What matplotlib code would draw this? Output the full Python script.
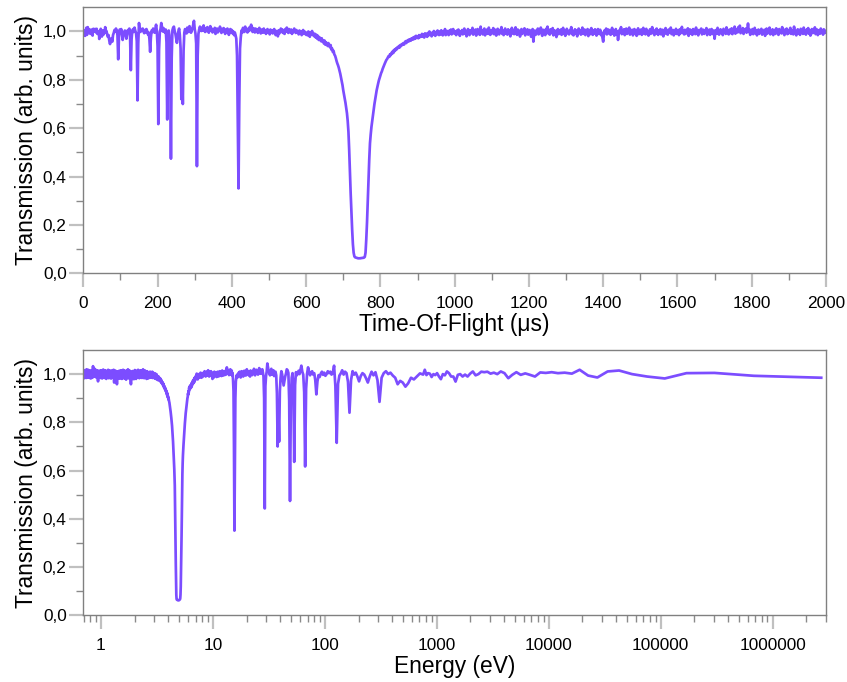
import numpy as np
import matplotlib
matplotlib.use("Agg")
import matplotlib.pyplot as plt
from matplotlib.ticker import MultipleLocator, FuncFormatter, NullFormatter, FixedLocator

# ---------------- data ----------------
# time-of-flight sampling (µs)
tof_fine_us = np.arange(1, 61, 1)          # 1..60 µs
tof_coarse_us = np.arange(62, 2001, 2)     # 62..2000 µs

# transmission in thousandths
trans_1_60 = [
    985, 993, 1005, 1004, 982, 990, 1000, 1015, 1011, 986,
    994, 1018, 1002, 1006, 1004, 1008, 1005, 1007, 990, 997,
    1003, 997, 1008, 997, 983, 1004, 1011, 1000, 1006, 1002,
    1010, 1008, 1010, 1000, 995, 1011, 1002, 990, 998, 990,
    1000, 997, 969, 990, 990, 1004, 1011, 995, 1000, 979,
    990, 1004, 996, 1000, 988, 1002, 1004, 996, 1018, 998,
]
trans_62_600 = [
    1003, 990, 978, 985, 962, 948, 965, 972, 958, 985,
    994, 1006, 1000, 1012, 1004, 985, 885, 975, 1008, 995,
    1010, 990, 965, 983, 998, 1004, 992, 970, 990, 1006,
    998, 1012, 975, 840, 968, 1004, 1010, 998, 1016, 1003,
    994, 960, 715, 950, 1035, 1005, 998, 1010, 1004, 1012,
    1000, 993, 1006, 997, 1010, 1002, 988, 996, 970, 916,
    975, 1004, 998, 1012, 1004, 995, 1010, 1028, 1002, 940,
    617, 925, 998, 1010, 1035, 1018, 1000, 1014, 1005, 995,
    1008, 955, 636, 940, 1004, 985, 880, 474, 890, 1005,
    1016, 1020, 1002, 990, 970, 953, 975, 1000, 1012, 985,
    930, 720, 850, 700, 920, 995, 1010, 1004, 992, 1016,
    1008, 998, 1022, 1010, 995, 1004, 1012, 1028, 1044, 1010,
    992, 950, 443, 900, 990, 1008, 1020, 1012, 1002, 1016,
    1004, 1025, 1010, 998, 1012, 1002, 1018, 1006, 995, 1010,
    1022, 1004, 1012, 996, 1008, 1002, 1015, 990, 1005, 1012,
    996, 1008, 1002, 1020, 1006, 994, 1010, 1000, 1014, 1004,
    990, 1008, 998, 1012, 1004, 986, 1002, 1010, 995, 1006,
    992, 1000, 985, 996, 985, 970, 900, 620, 351, 700,
    930, 975, 1004, 995, 1015, 1003, 998, 1020, 1006, 1012,
    996, 1010, 1002, 1018, 1006, 1028, 1010, 998, 1014, 1004,
    996, 1012, 1000, 1008, 994, 1006, 1015, 1000, 992, 1008,
    1002, 995, 1012, 998, 1005, 990, 1004, 1010, 996, 1002,
    988, 1008, 996, 1004, 992, 1000, 1010, 994, 985, 1002,
    996, 980, 1005, 992, 1000, 1012, 998, 1008, 994, 1005,
    990, 1010, 1000, 1016, 1004, 994, 1010, 1000, 996, 1008,
    990, 1004, 998, 1012, 1002, 994, 1006, 996, 1000, 988,
    1004, 992, 1000, 985, 998, 1006, 990, 1000, 994, 986,
]
trans_602_1000 = [
    995, 984, 1000, 990, 978, 996, 988, 1002, 985, 992,
    980, 990, 975, 986, 970, 982, 965, 976, 968, 960,
    972, 958, 964, 950, 962, 945, 955, 948, 940, 952,
    942, 935, 944, 925, 930, 915, 920, 905, 900, 890,
    878, 868, 860, 850, 838, 825, 810, 795, 778, 757,
    740, 722, 705, 685, 662, 630, 585, 510, 414, 330,
    255, 180, 120, 85, 70, 66, 65, 64, 63, 62,
    62, 62, 62, 63, 63, 64, 64, 65, 68, 85,
    140, 210, 300, 380, 470, 538, 575, 606, 630, 655,
    680, 700, 720, 738, 757, 772, 785, 798, 808, 818,
    828, 835, 845, 853, 860, 868, 875, 882, 886, 892,
    898, 895, 906, 902, 912, 908, 920, 913, 925, 921,
    930, 926, 935, 932, 940, 934, 944, 940, 948, 945,
    952, 946, 955, 960, 952, 962, 958, 966, 960, 968,
    962, 972, 966, 975, 968, 978, 970, 982, 974, 980,
    972, 985, 976, 984, 978, 990, 980, 986, 975, 992,
    982, 990, 978, 994, 984, 1000, 986, 992, 980, 996,
    986, 1002, 990, 982, 998, 988, 1004, 990, 985, 1000,
    988, 1005, 992, 984, 1000, 990, 1010, 985, 996, 1002,
    990, 985, 1004, 994, 1008, 988, 998, 1010, 992, 1000,
]
trans_1002_2000 = [
    998, 985, 1004, 990, 1008, 994, 982, 1000, 992, 1006,
    988, 996, 1012, 990, 1002, 980, 997, 1010, 993, 985,
    1005, 992, 998, 1015, 987, 1000, 994, 1008, 983, 996,
    1010, 990, 1002, 986, 1020, 995, 1004, 988, 999, 1012,
    984, 1001, 993, 1009, 990, 1016, 997, 986, 1005, 992,
    1000, 1014, 989, 996, 1007, 983, 1002, 1011, 994, 988,
    1006, 995, 1018, 990, 1003, 985, 999, 1012, 991, 1004,
    987, 1009, 996, 1002, 980, 997, 1015, 992, 1006, 989,
    1001, 1017, 993, 986, 1008, 995, 1003, 979, 998, 1010,
    990, 1005, 996, 1013, 984, 1000, 992, 1009, 987, 998,
    1006, 991, 978, 999, 1010, 958, 992, 1004, 986, 1001,
    995, 1012, 988, 1003, 997, 1016, 990, 982, 1007, 994,
    1002, 985, 1011, 996, 1020, 992, 1000, 987, 1009, 993,
    998, 1014, 984, 1005, 991, 1002, 977, 996, 1010, 989,
    1003, 994, 1008, 986, 999, 1015, 990, 1004, 982, 997,
    1011, 993, 1000, 988, 1006, 995, 1018, 989, 1002, 984,
    996, 1009, 991, 1003, 980, 998, 1012, 994, 1005, 987,
    1000, 1016, 990, 997, 1008, 985, 1002, 993, 1010, 981,
    995, 1006, 989, 1014, 998, 986, 1004, 992, 1009, 996,
    983, 1001, 1010, 990, 998, 1007, 985, 996, 975, 958,
    990, 1005, 994, 1012, 988, 999, 1008, 992, 1003, 986,
    997, 1015, 991, 1002, 983, 996, 1010, 988, 1000, 965,
    992, 1006, 996, 1018, 989, 1003, 994, 1009, 985, 999,
    1012, 990, 1004, 995, 1016, 987, 1001, 993, 1007, 984,
    998, 1010, 991, 1005, 982, 997, 1013, 989, 1002, 994,
    1008, 986, 999, 1015, 992, 1004, 988, 1011, 996, 1001,
    983, 995, 1009, 990, 1003, 1018, 993, 1000, 985, 1006,
    991, 1012, 997, 986, 1004, 994, 1010, 988, 999, 1007,
    980, 996, 1003, 1014, 990, 1001, 987, 1008, 995, 1002,
    1016, 989, 998, 1006, 984, 1000, 993, 1011, 990, 1004,
    997, 985, 1009, 992, 1003, 1019, 994, 1001, 988, 1007,
    990, 1005, 996, 1013, 982, 999, 1008, 991, 1002, 986,
    1010, 995, 1004, 989, 1016, 993, 1000, 984, 1006, 997,
    1002, 1012, 988, 998, 1007, 990, 1003, 996, 1014, 985,
    999, 992, 1008, 986, 1001, 1010, 994, 989, 1004, 970,
    996, 1006, 991, 1015, 998, 987, 1003, 1009, 993, 1000,
    985, 1011, 997, 1004, 990, 1017, 994, 1002, 988, 1008,
    1000, 993, 1013, 989, 1006, 997, 1020, 991, 1005, 1010,
    996, 1018, 1002, 1024, 993, 1008, 999, 1014, 990, 1006,
    1001, 1012, 995, 1004, 1033, 998, 1009, 986, 1003, 994,
    1010, 989, 1001, 1015, 992, 1005, 984, 998, 1008, 990,
    1003, 996, 1011, 987, 1000, 994, 1007, 982, 997, 1012,
    991, 1004, 998, 1016, 988, 1002, 993, 1009, 985, 999,
    1006, 990, 1013, 995, 1001, 986, 1010, 997, 1004, 992,
    1018, 994, 1000, 985, 1008, 996, 1012, 989, 1003, 993,
    1007, 1015, 990, 999, 1004, 988, 1020, 995, 1001, 984,
    997, 1009, 992, 1005, 986, 1011, 998, 1003, 990, 1016,
    994, 1002, 987, 1008, 999, 1014, 991, 1005, 983, 1000,
    1010, 993, 1004, 996, 1017, 989, 1002, 1008, 985, 998,
    1005, 991, 1012, 995, 1000, 987, 1009, 994, 1003, 996,
]

# E[eV] = C / t[µs]^2 for this flight path
flight_constant_eV_us2 = 2.72e6

# axis tick values
tof_major_ticks = [0, 200, 400, 600, 800, 1000, 1200, 1400, 1600, 1800, 2000]
energy_major_ticks = [1, 10, 100, 1000, 10000, 100000, 1000000]
y_major_ticks = [0.0, 0.2, 0.4, 0.6, 0.8, 1.0]
y_minor_ticks = [0.1, 0.3, 0.5, 0.7, 0.9]

# ---------------- assemble ----------------
tof_us = np.concatenate([tof_fine_us, tof_coarse_us])
trans = np.concatenate([trans_1_60, trans_62_600, trans_602_1000, trans_1002_2000]) / 1000.0
assert len(tof_us) == len(trans), (len(tof_us), len(trans))
energy_eV = flight_constant_eV_us2 / tof_us.astype(float) ** 2

E_MIN, E_MAX = 0.695, 3.0e6
energy_minor_ticks = [m * d for d in [0.1, 1, 10, 100, 1000, 10000, 100000, 1000000]
                      for m in range(2, 10) if E_MIN <= m * d <= E_MAX]

# ---------------- style ----------------
plt.rcParams['font.family'] = ['Liberation Sans', 'DejaVu Sans']
LINE_COLOR = '#7C4DFF'
SPINE_COLOR = '#808080'
LABEL_FS = 16.4
TICK_FS = 12.4

fig = plt.figure(figsize=(8.47, 6.82), dpi=100)
W, H = 847.0, 682.0
ax1 = fig.add_axes([83.3 / W, 1 - 273.3 / H, (826 - 83.3) / W, (273.3 - 7.3) / H])
ax2 = fig.add_axes([83.3 / W, 1 - 615.3 / H, (826 - 83.3) / W, (615.3 - 350) / H])

comma_fmt = FuncFormatter(lambda v, p: f"{v:.1f}".replace('.', ','))


def style_axes(ax):
    for s in ax.spines.values():
        s.set_color(SPINE_COLOR)
        s.set_linewidth(1.0)
    ax.tick_params(which='major', direction='out', length=10, width=1.6,
                   color='#c0c0c0', labelsize=TICK_FS, labelcolor='black')
    ax.tick_params(which='minor', direction='out', length=5, width=1.0,
                   color='#8a8a8a')
    ax.tick_params(axis='y', which='major', pad=2)
    ax.tick_params(axis='x', which='major', pad=6)
    ax.set_ylim(0, 1.1)
    ax.yaxis.set_major_locator(FixedLocator(y_major_ticks))
    ax.yaxis.set_minor_locator(FixedLocator(y_minor_ticks))
    ax.yaxis.set_major_formatter(comma_fmt)
    ax.set_ylabel('Transmission (arb. units)', fontsize=LABEL_FS, labelpad=3)


# top: time of flight
ax1.plot(tof_us, trans, color=LINE_COLOR, lw=1.95, solid_joinstyle='round')
ax1.set_xlim(0, 2000)
ax1.xaxis.set_major_locator(FixedLocator(tof_major_ticks))
ax1.xaxis.set_minor_locator(MultipleLocator(100))
ax1.xaxis.set_major_formatter(FuncFormatter(lambda v, p: f"{v:.0f}"))
style_axes(ax1)
ax1.set_xlabel('Time-Of-Flight (\u03bcs)', fontsize=LABEL_FS, labelpad=2)

# bottom: energy
ax2.plot(energy_eV, trans, color=LINE_COLOR, lw=1.95, solid_joinstyle='round')
ax2.set_xscale('log')
ax2.set_xlim(E_MIN, E_MAX)
ax2.xaxis.set_major_locator(FixedLocator(energy_major_ticks))
ax2.xaxis.set_minor_locator(FixedLocator(energy_minor_ticks))
ax2.xaxis.set_major_formatter(FuncFormatter(lambda v, p: f"{v:.0f}"))
ax2.xaxis.set_minor_formatter(NullFormatter())
style_axes(ax2)
ax2.set_xlabel('Energy (eV)', fontsize=LABEL_FS, labelpad=2)

fig.savefig('out.png', dpi=100)
